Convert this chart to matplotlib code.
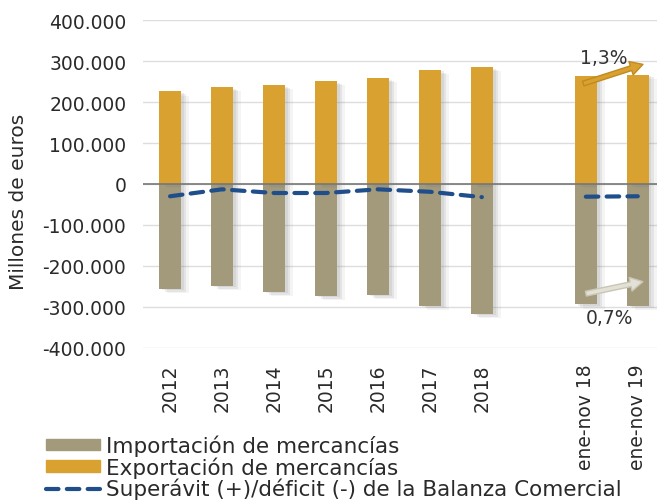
import numpy as np
import matplotlib.pyplot as plt
import matplotlib.patheffects as pe
from matplotlib.patches import Patch
from matplotlib.lines import Line2D
from matplotlib.ticker import FuncFormatter

periodos = ['2012', '2013', '2014', '2015', '2016', '2017', '2018', 'ene-nov 18', 'ene-nov 19']
posiciones = [0, 1, 2, 3, 4, 5, 6, 8, 9]
exportacion = [226000, 236000, 241000, 251000, 258000, 278000, 285000, 263000, 267000]
importacion = [-256000, -249000, -263000, -273000, -271000, -297000, -317000, -294000, -297000]
saldo = [-30000, -13000, -22000, -22000, -13000, -19000, -32000, -31000, -30000]
var_export = '1,3%'
var_import = '0,7%'

c_imp = '#A39A7C'
c_exp = '#D9A12F'
c_saldo = '#1F4E8A'

plt.rcParams['font.family'] = ['DejaVu Sans']
fs = 13.5

fig = plt.figure(figsize=(6.59, 5.02), dpi=100)
ax = fig.add_axes([0.217, 0.305, 0.78, 0.653])

# sombra difusa a la derecha de las barras
sombra = [pe.SimplePatchShadow(offset=(2, -1), shadow_rgbFace='#777777', alpha=0.12),
          pe.SimplePatchShadow(offset=(4, -2), shadow_rgbFace='#777777', alpha=0.12),
          pe.SimplePatchShadow(offset=(6, -3), shadow_rgbFace='#777777', alpha=0.08),
          pe.Normal()]
ancho = 0.42
b1 = ax.bar(posiciones, importacion, width=ancho, color=c_imp, zorder=3)
b2 = ax.bar(posiciones, exportacion, width=ancho, color=c_exp, zorder=3)
for b in list(b1) + list(b2):
    b.set_path_effects(sombra)

# saldo: anual y ene-nov por separado
ax.plot(posiciones[:7], saldo[:7], color=c_saldo, lw=3, ls=(0, (3, 2)),
        dash_capstyle='round', zorder=4)
ax.plot(posiciones[7:], saldo[7:], color=c_saldo, lw=3, ls=(0, (3, 2)),
        dash_capstyle='round', zorder=4)

ax.axhline(0, color='#777777', lw=1.2, zorder=5)
ax.set_ylim(-400000, 400000)
ax.set_yticks(np.arange(-400000, 400001, 100000))
ax.yaxis.set_major_formatter(FuncFormatter(lambda v, p: f'{int(v):,}'.replace(',', '.')))
ax.set_xlim(-0.52, 9.37)
ax.set_xticks(posiciones)
ax.set_xticklabels(periodos, rotation=90, fontsize=fs, color='#2a2a2a')
ax.tick_params(axis='y', labelsize=fs, colors='#2a2a2a', length=0, pad=12)
ax.tick_params(axis='x', length=0, pad=11)
ax.grid(axis='y', color='#DDDDDD', lw=1, zorder=0)
for s in ax.spines.values():
    s.set_visible(False)
ax.set_ylabel('Millones de euros', fontsize=14.5, color='#2a2a2a')
ax.yaxis.set_label_coords(-0.224, 0.448)

# flechas de variación
ax.annotate('', xy=(9.15, exportacion[8] + 27000), xytext=(7.9, exportacion[7] - 20000),
            arrowprops=dict(arrowstyle='simple,head_width=1.0,head_length=0.9,tail_width=0.35',
                            color=c_exp, ec='#C08A20'), zorder=6)
ax.text(8.35, exportacion[7] + 33000, var_export, fontsize=fs, ha='center', color='#333333')
ax.annotate('', xy=(9.15, importacion[8] + 60000), xytext=(7.95, importacion[7] + 25000),
            arrowprops=dict(arrowstyle='simple,head_width=1.0,head_length=0.9,tail_width=0.35',
                            color='#E3E1D6', ec='#C9C6B6'), zorder=6)
ax.text(8.45, importacion[7] - 45000, var_import, fontsize=fs, ha='center', color='#333333')

handles = [Patch(color=c_imp, label='Importación de mercancías'),
           Patch(color=c_exp, label='Exportación de mercancías'),
           Line2D([], [], color=c_saldo, lw=3, ls=(0, (3, 2)), dash_capstyle='round',
                  label='Superávit (+)/déficit (-) de la Balanza Comercial')]
fig.legend(handles=handles, loc='upper left', bbox_to_anchor=(0.07, 0.132),
           frameon=False, fontsize=15.5, handlelength=2.5, handleheight=0.45,
           labelspacing=0.0, handletextpad=0.3, borderpad=0, borderaxespad=0,
           labelcolor='#2a2a2a')

fig.savefig('out.png', dpi=100)
